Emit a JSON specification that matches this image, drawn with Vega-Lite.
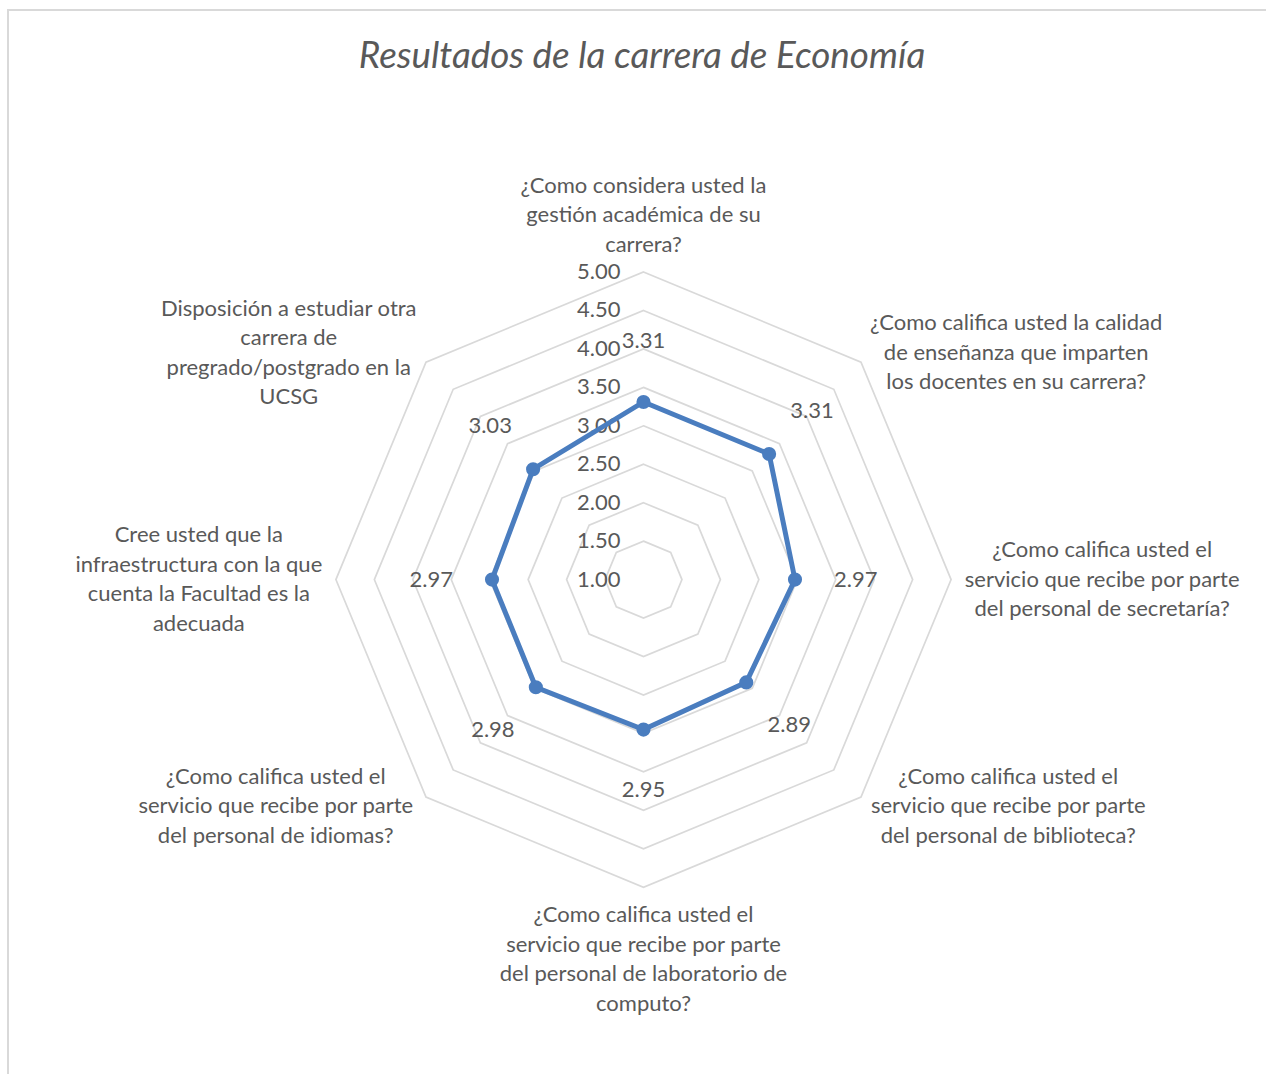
{
  "$schema": "https://vega.github.io/schema/vega-lite/v6.json",
  "width": 1258,
  "height": 1064,
  "autosize": {"type": "none"},
  "padding": {"left": 8, "top": 10, "right": 0, "bottom": 0},
  "background": "white",
  "config": {
    "view": {"stroke": "#d9d9d9", "strokeWidth": 2, "strokeDash": [1258, 2322, 1064]},
    "font": "Lato",
    "text": {"font": "Lato", "color": "#595959"}
  },
  "title": {
    "text": "Resultados de la carrera de Economía",
    "font": "Lato",
    "fontStyle": "italic",
    "fontWeight": "normal",
    "fontSize": 36.8,
    "color": "#595959",
    "anchor": "middle",
    "offset": -66,
    "dx": 5
  },
  "datasets": {
    "categorias": [
      {"orden": 0, "promedio": 3.31, "pregunta": "¿Como considera usted la\ngestión académica de su\ncarrera?"},
      {"orden": 1, "promedio": 3.31, "pregunta": "¿Como califica usted la calidad\nde enseñanza que imparten\nlos docentes en su carrera?"},
      {"orden": 2, "promedio": 2.97, "pregunta": "¿Como califica usted el\nservicio que recibe por parte\ndel personal de secretaría?"},
      {"orden": 3, "promedio": 2.89, "pregunta": "¿Como califica usted el\nservicio que recibe por parte\ndel personal de biblioteca?"},
      {"orden": 4, "promedio": 2.95, "pregunta": "¿Como califica usted el\nservicio que recibe por parte\ndel personal de laboratorio de\ncomputo?"},
      {"orden": 5, "promedio": 2.98, "pregunta": "¿Como califica usted el\nservicio que recibe por parte\ndel personal de idiomas?"},
      {"orden": 6, "promedio": 2.97, "pregunta": "Cree usted que la\ninfraestructura con la que\ncuenta la Facultad es la\nadecuada"},
      {"orden": 7, "promedio": 3.03, "pregunta": "Disposición a estudiar otra\ncarrera de\npregrado/postgrado en la\nUCSG"}
    ],
    "niveles": [
      {"nivel": 1.0, "vertices": [0, 1, 2, 3, 4, 5, 6, 7]},
      {"nivel": 1.5, "vertices": [0, 1, 2, 3, 4, 5, 6, 7]},
      {"nivel": 2.0, "vertices": [0, 1, 2, 3, 4, 5, 6, 7]},
      {"nivel": 2.5, "vertices": [0, 1, 2, 3, 4, 5, 6, 7]},
      {"nivel": 3.0, "vertices": [0, 1, 2, 3, 4, 5, 6, 7]},
      {"nivel": 3.5, "vertices": [0, 1, 2, 3, 4, 5, 6, 7]},
      {"nivel": 4.0, "vertices": [0, 1, 2, 3, 4, 5, 6, 7]},
      {"nivel": 4.5, "vertices": [0, 1, 2, 3, 4, 5, 6, 7]},
      {"nivel": 5.0, "vertices": [0, 1, 2, 3, 4, 5, 6, 7]}
    ]
  },
  "layer": [
    {
      "data": {"name": "niveles"},
      "transform": [
        {"filter": "datum.nivel > 1"},
        {"flatten": ["vertices"], "as": ["k"]},
        {"calculate": "(datum.nivel - 1) * sin(datum.k * PI / 4)", "as": "px"},
        {"calculate": "(datum.nivel - 1) * cos(datum.k * PI / 4)", "as": "py"}
      ],
      "mark": {"type": "line", "interpolate": "linear-closed", "stroke": "#d9d9d9", "strokeWidth": 1.7},
      "encoding": {
        "x": {"field": "px", "type": "quantitative", "scale": {"domain": [-8.264, 8.095], "nice": false, "zero": false}, "axis": null},
        "y": {"field": "py", "type": "quantitative", "scale": {"domain": [-6.429, 7.407], "nice": false, "zero": false}, "axis": null},
        "detail": {"field": "nivel", "type": "nominal"},
        "order": {"field": "k", "type": "quantitative"}
      }
    },
    {
      "data": {"name": "niveles"},
      "transform": [
        {"calculate": "0", "as": "px"},
        {"calculate": "datum.nivel - 1", "as": "py"}
      ],
      "mark": {"type": "text", "align": "right", "baseline": "middle", "dx": -23, "fontSize": 22, "color": "#595959"},
      "encoding": {
        "x": {"field": "px", "type": "quantitative", "scale": {"domain": [-8.264, 8.095], "nice": false, "zero": false}, "axis": null},
        "y": {"field": "py", "type": "quantitative", "scale": {"domain": [-6.429, 7.407], "nice": false, "zero": false}, "axis": null},
        "text": {"field": "nivel", "type": "quantitative", "format": ".2f"}
      }
    },
    {
      "data": {"name": "categorias"},
      "transform": [
        {"calculate": "(datum.promedio - 1) * sin(datum.orden * PI / 4)", "as": "px"},
        {"calculate": "(datum.promedio - 1) * cos(datum.orden * PI / 4)", "as": "py"}
      ],
      "mark": {"type": "line", "interpolate": "linear-closed", "stroke": "#4a7dbf", "strokeWidth": 5},
      "encoding": {
        "x": {"field": "px", "type": "quantitative", "scale": {"domain": [-8.264, 8.095], "nice": false, "zero": false}, "axis": null},
        "y": {"field": "py", "type": "quantitative", "scale": {"domain": [-6.429, 7.407], "nice": false, "zero": false}, "axis": null},
        "order": {"field": "orden", "type": "quantitative"}
      }
    },
    {
      "data": {"name": "categorias"},
      "transform": [
        {"calculate": "(datum.promedio - 1) * sin(datum.orden * PI / 4)", "as": "px"},
        {"calculate": "(datum.promedio - 1) * cos(datum.orden * PI / 4)", "as": "py"}
      ],
      "mark": {"type": "circle", "size": 200, "color": "#4a7dbf", "opacity": 1},
      "encoding": {
        "x": {"field": "px", "type": "quantitative", "scale": {"domain": [-8.264, 8.095], "nice": false, "zero": false}, "axis": null},
        "y": {"field": "py", "type": "quantitative", "scale": {"domain": [-6.429, 7.407], "nice": false, "zero": false}, "axis": null}
      }
    },
    {
      "data": {"name": "categorias"},
      "transform": [
        {"calculate": "(datum.promedio - 1 + 0.79) * sin(datum.orden * PI / 4)", "as": "px"},
        {"calculate": "(datum.promedio - 1 + 0.79) * cos(datum.orden * PI / 4)", "as": "py"}
      ],
      "mark": {"type": "text", "align": "center", "baseline": "middle", "fontSize": 22, "color": "#595959"},
      "encoding": {
        "x": {"field": "px", "type": "quantitative", "scale": {"domain": [-8.264, 8.095], "nice": false, "zero": false}, "axis": null},
        "y": {"field": "py", "type": "quantitative", "scale": {"domain": [-6.429, 7.407], "nice": false, "zero": false}, "axis": null},
        "text": {"field": "promedio", "type": "quantitative", "format": ".2f"}
      }
    },
    {
      "data": {"name": "categorias"},
      "transform": [
        {"filter": "datum.orden == 0"},
        {"calculate": "4.17 * sin(datum.orden * PI / 4)", "as": "px"},
        {"calculate": "4.17 * cos(datum.orden * PI / 4)", "as": "py"}
      ],
      "mark": {"type": "text", "align": "center", "baseline": "bottom", "dy": -61, "lineBreak": "\n", "lineHeight": 29.5, "fontSize": 22, "color": "#595959"},
      "encoding": {
        "x": {"field": "px", "type": "quantitative", "scale": {"domain": [-8.264, 8.095], "nice": false, "zero": false}, "axis": null},
        "y": {"field": "py", "type": "quantitative", "scale": {"domain": [-6.429, 7.407], "nice": false, "zero": false}, "axis": null},
        "text": {"field": "pregunta", "type": "nominal"}
      }
    },
    {
      "data": {"name": "categorias"},
      "transform": [
        {"filter": "datum.orden == 4"},
        {"calculate": "4.17 * sin(datum.orden * PI / 4)", "as": "px"},
        {"calculate": "4.17 * cos(datum.orden * PI / 4)", "as": "py"}
      ],
      "mark": {"type": "text", "align": "center", "baseline": "top", "dy": 5, "lineBreak": "\n", "lineHeight": 29.5, "fontSize": 22, "color": "#595959"},
      "encoding": {
        "x": {"field": "px", "type": "quantitative", "scale": {"domain": [-8.264, 8.095], "nice": false, "zero": false}, "axis": null},
        "y": {"field": "py", "type": "quantitative", "scale": {"domain": [-6.429, 7.407], "nice": false, "zero": false}, "axis": null},
        "text": {"field": "pregunta", "type": "nominal"}
      }
    },
    {
      "data": {"name": "categorias"},
      "transform": [
        {"filter": "datum.orden == 1"},
        {"calculate": "4.17 * sin(datum.orden * PI / 4)", "as": "px"},
        {"calculate": "4.17 * cos(datum.orden * PI / 4)", "as": "py"}
      ],
      "mark": {"type": "text", "align": "center", "baseline": "middle", "dx": 146, "dy": -29.5, "lineBreak": "\n", "lineHeight": 29.5, "fontSize": 22, "color": "#595959"},
      "encoding": {
        "x": {"field": "px", "type": "quantitative", "scale": {"domain": [-8.264, 8.095], "nice": false, "zero": false}, "axis": null},
        "y": {"field": "py", "type": "quantitative", "scale": {"domain": [-6.429, 7.407], "nice": false, "zero": false}, "axis": null},
        "text": {"field": "pregunta", "type": "nominal"}
      }
    },
    {
      "data": {"name": "categorias"},
      "transform": [
        {"filter": "datum.orden == 2 || datum.orden == 3"},
        {"calculate": "4.17 * sin(datum.orden * PI / 4)", "as": "px"},
        {"calculate": "4.17 * cos(datum.orden * PI / 4)", "as": "py"}
      ],
      "mark": {"type": "text", "align": "center", "baseline": "middle", "dx": 138, "dy": -29.5, "lineBreak": "\n", "lineHeight": 29.5, "fontSize": 22, "color": "#595959"},
      "encoding": {
        "x": {"field": "px", "type": "quantitative", "scale": {"domain": [-8.264, 8.095], "nice": false, "zero": false}, "axis": null},
        "y": {"field": "py", "type": "quantitative", "scale": {"domain": [-6.429, 7.407], "nice": false, "zero": false}, "axis": null},
        "text": {"field": "pregunta", "type": "nominal"}
      }
    },
    {
      "data": {"name": "categorias"},
      "transform": [
        {"filter": "datum.orden == 5"},
        {"calculate": "4.17 * sin(datum.orden * PI / 4)", "as": "px"},
        {"calculate": "4.17 * cos(datum.orden * PI / 4)", "as": "py"}
      ],
      "mark": {"type": "text", "align": "center", "baseline": "middle", "dx": -141, "dy": -29.5, "lineBreak": "\n", "lineHeight": 29.5, "fontSize": 22, "color": "#595959"},
      "encoding": {
        "x": {"field": "px", "type": "quantitative", "scale": {"domain": [-8.264, 8.095], "nice": false, "zero": false}, "axis": null},
        "y": {"field": "py", "type": "quantitative", "scale": {"domain": [-6.429, 7.407], "nice": false, "zero": false}, "axis": null},
        "text": {"field": "pregunta", "type": "nominal"}
      }
    },
    {
      "data": {"name": "categorias"},
      "transform": [
        {"filter": "datum.orden == 6"},
        {"calculate": "4.17 * sin(datum.orden * PI / 4)", "as": "px"},
        {"calculate": "4.17 * cos(datum.orden * PI / 4)", "as": "py"}
      ],
      "mark": {"type": "text", "align": "center", "baseline": "middle", "dx": -124, "dy": -44.25, "lineBreak": "\n", "lineHeight": 29.5, "fontSize": 22, "color": "#595959"},
      "encoding": {
        "x": {"field": "px", "type": "quantitative", "scale": {"domain": [-8.264, 8.095], "nice": false, "zero": false}, "axis": null},
        "y": {"field": "py", "type": "quantitative", "scale": {"domain": [-6.429, 7.407], "nice": false, "zero": false}, "axis": null},
        "text": {"field": "pregunta", "type": "nominal"}
      }
    },
    {
      "data": {"name": "categorias"},
      "transform": [
        {"filter": "datum.orden == 7"},
        {"calculate": "4.17 * sin(datum.orden * PI / 4)", "as": "px"},
        {"calculate": "4.17 * cos(datum.orden * PI / 4)", "as": "py"}
      ],
      "mark": {"type": "text", "align": "center", "baseline": "middle", "dx": -128, "dy": -44.25, "lineBreak": "\n", "lineHeight": 29.5, "fontSize": 22, "color": "#595959"},
      "encoding": {
        "x": {"field": "px", "type": "quantitative", "scale": {"domain": [-8.264, 8.095], "nice": false, "zero": false}, "axis": null},
        "y": {"field": "py", "type": "quantitative", "scale": {"domain": [-6.429, 7.407], "nice": false, "zero": false}, "axis": null},
        "text": {"field": "pregunta", "type": "nominal"}
      }
    }
  ]
}
